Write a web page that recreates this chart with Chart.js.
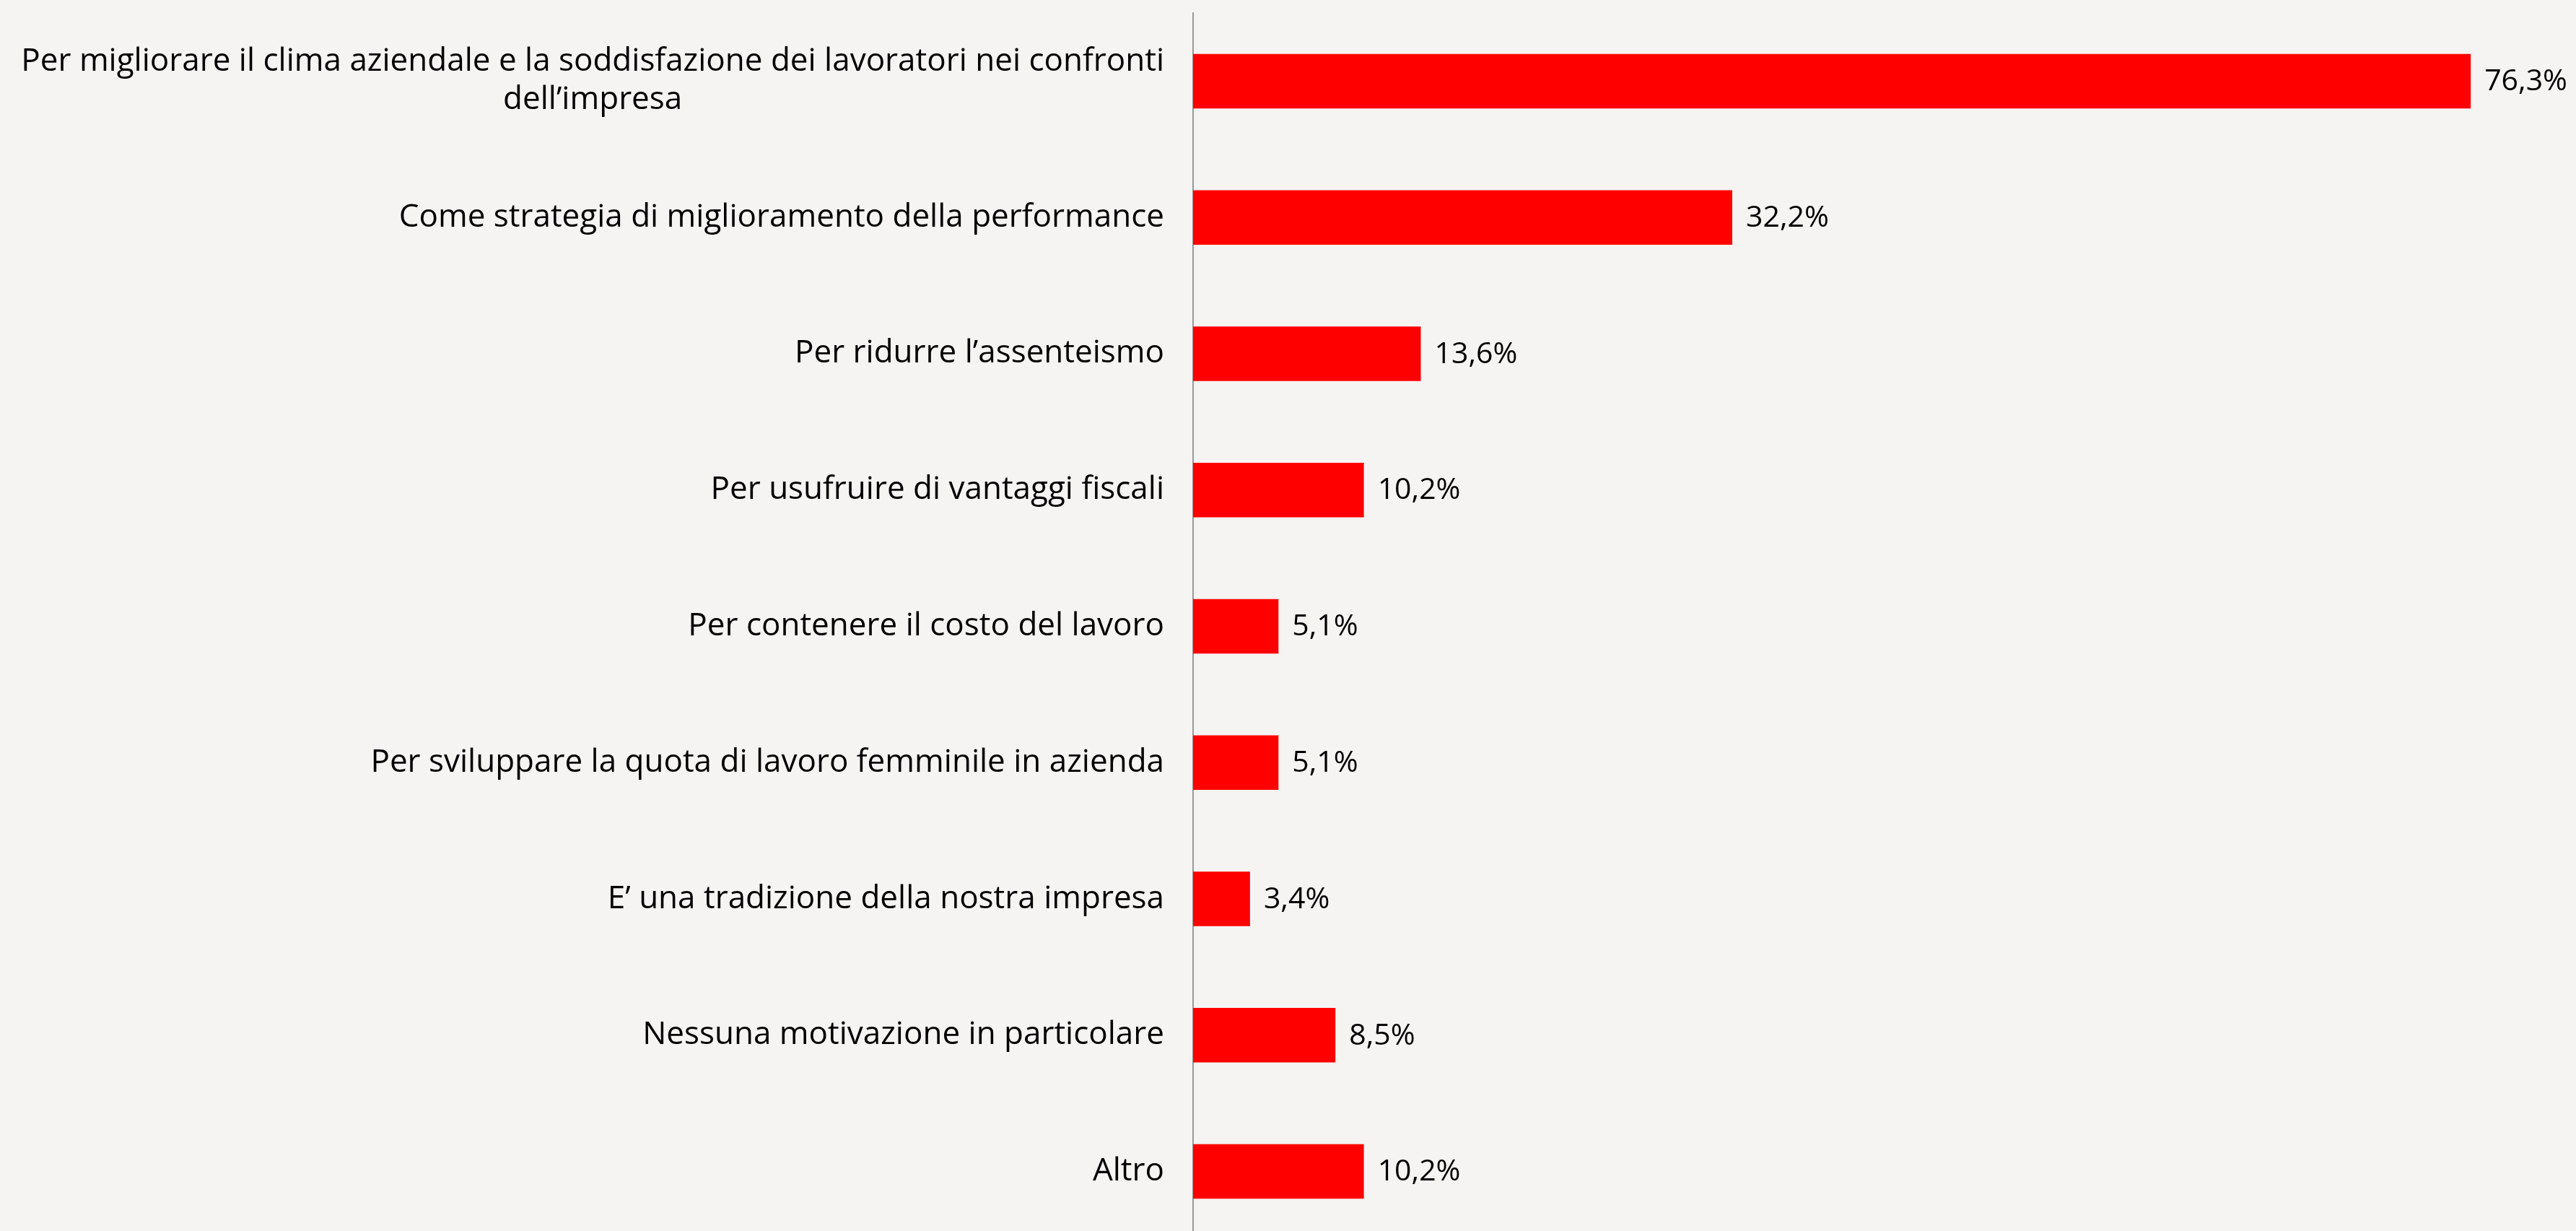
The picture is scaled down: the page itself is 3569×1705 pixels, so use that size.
<!DOCTYPE html>
<html lang="it">
<head>
<meta charset="utf-8">
<title>Motivazioni</title>
<script src="https://cdn.jsdelivr.net/npm/chart.js@4.4.1/dist/chart.umd.min.js"></script>
<style>
  html, body { margin: 0; padding: 0; background: #f5f4f2; overflow: hidden; }
  #grafico { display: block; }
</style>
</head>
<body>
<canvas id="grafico" width="3569" height="1720" style="width:3569px;height:1720px"></canvas>
<script>
// categorie (le righe con più linee sono array)
const categorie = [
  ['Per migliorare il clima aziendale e la soddisfazione dei lavoratori nei confronti', 'dell\u2019impresa'],
  'Come strategia di miglioramento della performance',
  'Per ridurre l\u2019assenteismo',
  'Per usufruire di vantaggi fiscali',
  'Per contenere il costo del lavoro',
  'Per sviluppare la quota di lavoro femminile in azienda',
  'E\u2019 una tradizione della nostra impresa',
  'Nessuna motivazione in particolare',
  'Altro'
];
const percentuali = [76.3, 32.2, 13.6, 10.2, 5.1, 5.1, 3.4, 8.5, 10.2];

const FONT_CAT = '44px "Open Sans", sans-serif';
const FONT_VAL = '41px "Open Sans", sans-serif';
const ASSE_X = 1653;

function formatta(v) {
  return v.toFixed(1).replace('.', ',') + '%';
}

// etichette delle categorie, allineate a destra vicino all'asse
const etichetteCategorie = {
  id: 'etichetteCategorie',
  afterDraw(chart) {
    const ctx = chart.ctx;
    const y = chart.scales.y;
    ctx.save();
    ctx.font = FONT_CAT;
    ctx.fillStyle = '#000';
    ctx.textBaseline = 'middle';
    const destra = y.right - 40;
    categorie.forEach((lab, i) => {
      const cy = y.getPixelForTick(i);
      if (Array.isArray(lab)) {
        const larg = Math.max(...lab.map(r => ctx.measureText(r).width));
        const centro = destra - larg / 2;
        ctx.textAlign = 'center';
        const h = 53;
        lab.forEach((riga, j) => {
          ctx.fillText(riga, centro, cy + (j - (lab.length - 1) / 2) * h);
        });
      } else {
        ctx.textAlign = 'right';
        ctx.fillText(lab, destra, cy);
      }
    });
    ctx.restore();
  }
};

// valori a destra delle barre
const etichetteValori = {
  id: 'etichetteValori',
  afterDatasetsDraw(chart) {
    const ctx = chart.ctx;
    const meta = chart.getDatasetMeta(0);
    ctx.save();
    ctx.font = FONT_VAL;
    ctx.fillStyle = '#000';
    ctx.textAlign = 'left';
    ctx.textBaseline = 'middle';
    meta.data.forEach((bar, i) => {
      ctx.fillText(formatta(percentuali[i]), bar.x + 19, bar.y + 1);
    });
    ctx.restore();
  }
};

new Chart(document.getElementById('grafico'), {
  type: 'bar',
  data: {
    labels: categorie,
    datasets: [{
      data: percentuali,
      backgroundColor: '#ff0000',
      borderWidth: 0,
      barPercentage: 0.8,
      categoryPercentage: 0.5
    }]
  },
  options: {
    indexAxis: 'y',
    responsive: false,
    animation: false,
    layout: { padding: { top: 18, bottom: 3, left: 0, right: 60 } },
    plugins: {
      legend: { display: false },
      tooltip: { enabled: false }
    },
    scales: {
      x: {
        display: false,
        min: 0,
        max: 80
      },
      y: {
        grid: { display: false },
        border: { display: true, color: '#999999', width: 2 },
        ticks: { display: false },
        afterFit(scale) { scale.width = ASSE_X; }
      }
    }
  },
  plugins: [etichetteCategorie, etichetteValori]
});
</script>
</body>
</html>
